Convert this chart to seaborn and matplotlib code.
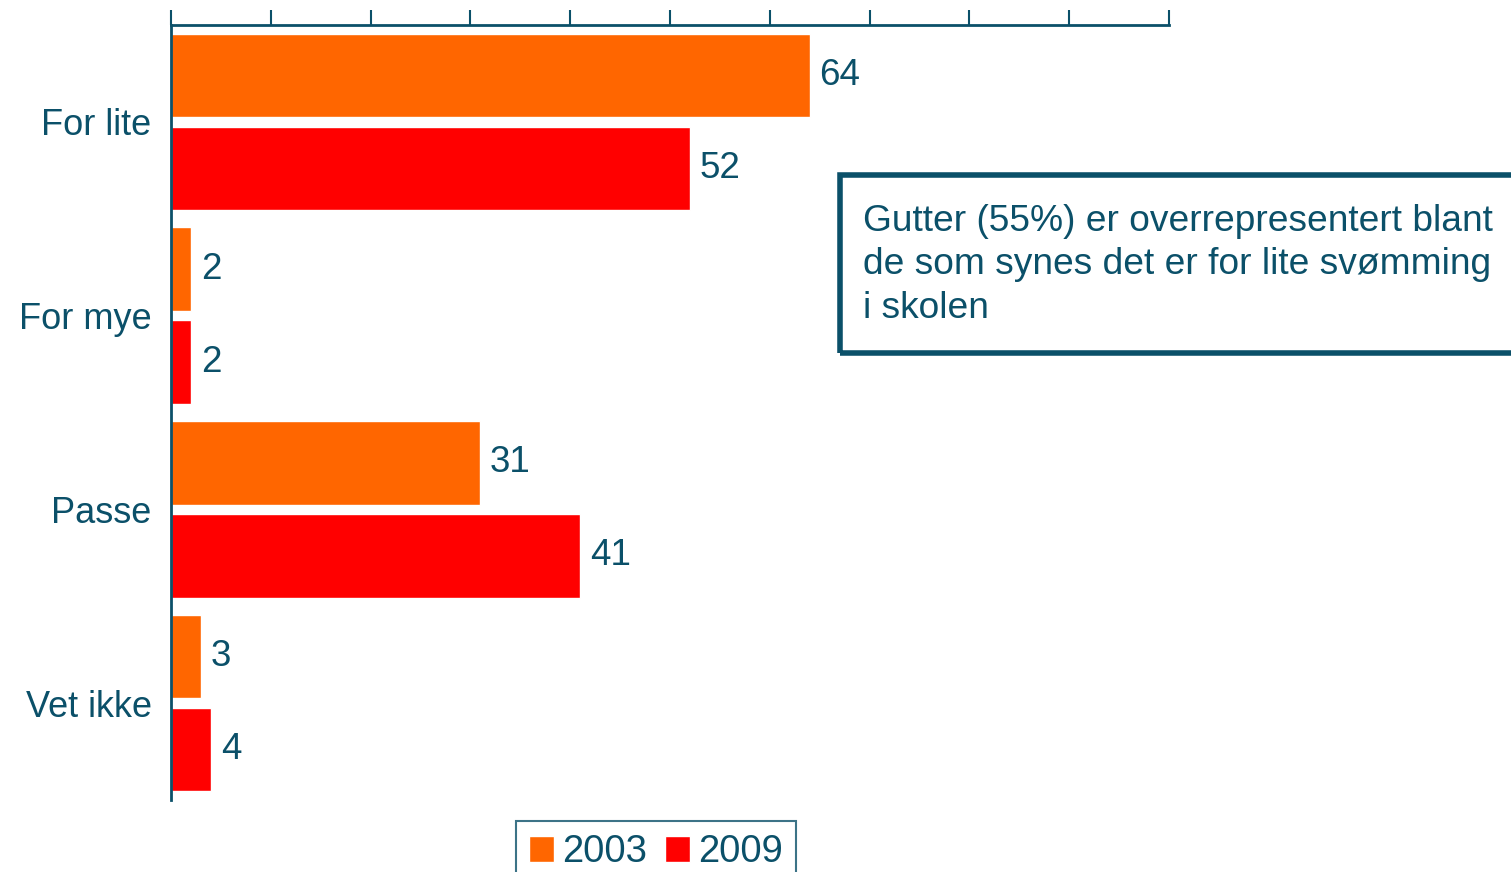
import pandas as pd
import matplotlib.pyplot as plt
import seaborn as sns
from matplotlib.patches import Rectangle, Patch

# =========================
# DATA
# =========================
categories = ["For lite", "For mye", "Passe", "Vet ikke"]
years = ["2003", "2009"]
values_2003 = [64, 2, 31, 3]
values_2009 = [52, 2, 41, 4]

note_text = ("Gutter (55%) er overrepresentert blant\n"
             "de som synes det er for lite svømming\n"
             "i skolen")

# =========================
# STYLE
# =========================
TEAL = "#0B5069"
COLORS = {"2003": "#FF6600", "2009": "#FF0000"}

sns.set_style("white")
plt.rcParams["font.family"] = ["Liberation Sans", "DejaVu Sans"]

df = pd.DataFrame({
    "kategori": categories * 2,
    "aar": [years[0]] * len(categories) + [years[1]] * len(categories),
    "verdi": values_2003 + values_2009,
})

# =========================
# PLOT
# =========================
fig = plt.figure(figsize=(15.11, 8.72), dpi=100)
ax = fig.add_axes([171 / 1511, 1 - 800 / 872, 998 / 1511, 775 / 872])

sns.barplot(data=df, y="kategori", x="verdi", hue="aar", order=categories,
            hue_order=years, palette=COLORS, orient="h", width=0.96,
            gap=0.1, saturation=1, legend=False, ax=ax)

for cont in ax.containers:
    ax.bar_label(cont, fmt="%d", padding=7, fontsize=26.5, color=TEAL)

ax.set_xlim(0, 100)
ax.set_ylim(3.5, -0.5)
ax.set_xlabel("")
ax.set_ylabel("")
ax.set_xticks(range(0, 101, 10))
ax.xaxis.tick_top()
ax.tick_params(axis="x", which="both", length=11, width=1.5, color=TEAL,
               labeltop=False, labelbottom=False, direction="out")
ax.tick_params(axis="y", length=0, labelsize=26, labelcolor=TEAL, pad=14)

for side in ["right", "bottom"]:
    ax.spines[side].set_visible(False)
for side in ["top", "left"]:
    ax.spines[side].set_color(TEAL)
    ax.spines[side].set_linewidth(2)

# note box
fig.patches.append(Rectangle((840 / 1511, 1 - 353 / 872), 700 / 1511, 178 / 872,
                             transform=fig.transFigure, fill=False,
                             edgecolor=TEAL, linewidth=4))
fig.text(863 / 1511, 1 - 265 / 872, note_text, fontsize=26.7, color=TEAL,
         va="center", ha="left", linespacing=1.32)

# legend
handles = [Patch(facecolor=COLORS[y], label=y) for y in years]
leg = fig.legend(handles=handles, loc="upper left", ncol=2,
                 bbox_to_anchor=(516 / 1511, 1 - 821 / 872), borderaxespad=0,
                 fontsize=27.5, frameon=True, fancybox=False,
                 handlelength=0.65, handleheight=0.65, handletextpad=0.22,
                 columnspacing=0.45, borderpad=0.35)
leg.get_frame().set_edgecolor(TEAL)
leg.get_frame().set_linewidth(1.5)
for t in leg.get_texts():
    t.set_color(TEAL)

fig.savefig("out.png", dpi=100)
